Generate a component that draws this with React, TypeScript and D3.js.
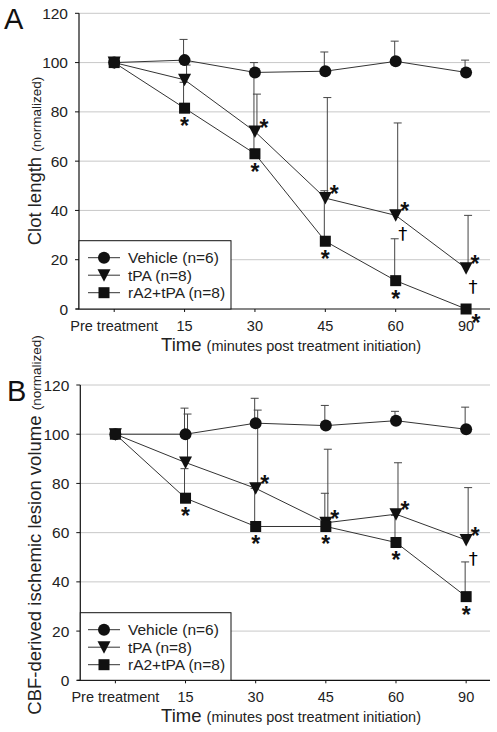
import React from "react";
import * as d3 from "d3";

const categories = ["Pre treatment", "15", "30", "45", "60", "90"];
const yTicks = [0, 20, 40, 60, 80, 100, 120];
const seriesNames = ["Vehicle (n=6)", "tPA (n=8)", "rA2+tPA (n=8)"];

// Panel A: clot length
const vehicleA = [100, 101, 96, 96.5, 100.5, 96];
const vehicleAUp = [100, 109.4, 100, 104.3, 108.7, 101];
const tpaA = [100, 93, 72, 45, 38, 16.5];
const tpaAUp = [100, 99, 87.2, 85.8, 75.5, 38];
const ra2A = [100, 81.5, 63, 27.5, 11.5, 0];
const ra2AUp = [100, 92, 95, 48, 28.5, 0];
// significance marks: [seriesIndex, categoryIndex, symbol, placement]
const marksA: [number, number, string, string][] = [
  [2, 1, "*", "below"], [2, 2, "*", "below"], [2, 3, "*", "below"], [2, 4, "*", "below"], [2, 5, "*", "lowright"],
  [1, 2, "*", "upright"], [1, 3, "*", "upright"], [1, 4, "*", "upright"], [1, 5, "*", "upright"],
  [1, 4, "†", "dagger"], [1, 5, "†", "dagger"],
];

// Panel B: CBF-derived ischemic lesion volume
const vehicleB = [100, 100, 104.5, 103.5, 105.5, 102];
const vehicleBUp = [100, 110.6, 114.6, 111.7, 109.3, 111];
const tpaB = [100, 88.5, 78, 64, 67.5, 57];
const tpaBUp = [100, 108.2, 109.8, 93.9, 88.4, 78.3];
const ra2B = [100, 74, 62.5, 62.5, 56, 34];
const ra2BUp = [100, 86, 78, 76, 67, 48.1];
const marksB: [number, number, string, string][] = [
  [2, 1, "*", "below"], [2, 2, "*", "below"], [2, 3, "*", "below"], [2, 4, "*", "below"], [2, 5, "*", "below"],
  [1, 2, "*", "upright"], [1, 3, "*", "upright"], [1, 4, "*", "upright"], [1, 5, "*", "upright"],
  [1, 5, "†", "dagger"],
];

const FONT = "'Liberation Sans', Arial, sans-serif";

function Marker({ kind, x, y }: { kind: number; x: number; y: number }) {
  if (kind === 0) return <circle cx={x} cy={y} r={6} fill="#111" />;
  if (kind === 1)
    return <path d={`M${x - 6.5},${y - 6} L${x + 6.5},${y - 6} L${x},${y + 6.5} Z`} fill="#111" />;
  return <rect x={x - 5.5} y={y - 5.5} width={11} height={11} fill="#111" />;
}

function Panel({
  label, top, bottom, left, values, ups, marks, titleMain, titleSub, titleCenterY, legendTop,
}: {
  label: string; top: number; bottom: number; left: number;
  values: number[][]; ups: number[][]; marks: [number, number, string, string][];
  titleMain: string; titleSub: string; titleCenterY: number; legendTop: number;
}) {
  const right = 490;
  const x = d3.scaleLinear().domain([-0.5, 5.34]).range([left, right]);
  const y = d3.scaleLinear().domain([0, 120]).range([bottom, top]);
  const line = d3.line<number>().x((_, i) => x(i)).y((v) => y(v));
  const barOffset = [-1, 2, -1];
  return (
    <g fontFamily={FONT}>
      <text x={label === "A" ? 4 : 7} y={top + 16} fontSize={29} fill="#111">{label}</text>
      {yTicks.map((t) => (
        <g key={t}>
          {t > 0 && <line x1={left} x2={right} y1={y(t)} y2={y(t)} stroke="#c8c8c8" strokeWidth={1} />}
          <line x1={left - 4} x2={left} y1={y(t)} y2={y(t)} stroke="#111" />
          <text x={left - 11} y={y(t) + 5.5} fontSize={15.5} textAnchor="end" fill="#222">{t}</text>
        </g>
      ))}
      <line x1={left} x2={left} y1={top} y2={bottom} stroke="#111" strokeWidth={1.2} />
      <line x1={left - 3} x2={right} y1={bottom} y2={bottom} stroke="#111" strokeWidth={1.2} />
      {categories.map((c, i) => (
        <g key={c}>
          <line x1={x(i)} x2={x(i)} y1={bottom} y2={bottom + 3} stroke="#111" />
          <text x={x(i)} y={bottom + 22} fontSize={14.5} textAnchor="middle" fill="#222">{c}</text>
        </g>
      ))}
      <text x={291} y={bottom + 42} textAnchor="middle" fill="#222">
        <tspan fontSize={18.5}>Time </tspan>
        <tspan fontSize={14.5}>(minutes post treatment initiation)</tspan>
      </text>
      <text transform={`translate(41,${titleCenterY}) rotate(-90)`} textAnchor="middle" fill="#222">
        <tspan fontSize={18.5}>{titleMain} </tspan>
        <tspan fontSize={13.5}>{titleSub}</tspan>
      </text>
      {/* error bars */}
      {values.map((vals, s) =>
        vals.map((v, i) => {
          const u = ups[s][i];
          if (u <= v + 0.2) return null;
          const bx = x(i) + barOffset[s];
          return (
            <g key={`e${s}-${i}`} stroke="#444" strokeWidth={1}>
              <line x1={bx} x2={bx} y1={y(v)} y2={y(u)} />
              <line x1={bx - 4} x2={bx + 4} y1={y(u)} y2={y(u)} />
            </g>
          );
        })
      )}
      {values.map((vals, s) => (
        <path key={`l${s}`} d={line(vals) || ""} fill="none" stroke="#333" strokeWidth={1} />
      ))}
      {values.map((vals, s) =>
        vals.map((v, i) => <Marker key={`m${s}-${i}`} kind={s} x={x(i)} y={y(v)} />)
      )}
      {marks.map(([s, i, sym, pos], k) => {
        const px = x(i);
        const py = y(values[s][i]);
        let tx = px, ty = py;
        if (pos === "below") { tx = px; ty = py + 26; }
        else if (pos === "upright") { tx = px + 9; ty = py + 4; }
        else if (pos === "lowright") { tx = px + 10; ty = py + 22; }
        else if (pos === "dagger") { tx = px + 7; ty = py + 25; }
        return sym === "*" ? (
          <text key={`s${k}`} x={tx} y={ty} fontSize={23} fontWeight="bold" textAnchor="middle" fill="#111">*</text>
        ) : (
          <text key={`s${k}`} x={tx} y={ty} fontSize={18} fontFamily="'DejaVu Sans', sans-serif" textAnchor="middle" fill="#000">†</text>
        );
      })}
      {/* legend */}
      <rect x={left} y={legendTop} width={231 - left} height={bottom - legendTop} fill="#fff" stroke="#111" strokeWidth={1} />
      {seriesNames.map((n, s) => {
        const ly = legendTop + 17 + s * 17.5;
        return (
          <g key={n}>
            <line x1={88} x2={120} y1={ly} y2={ly} stroke="#333" />
            <Marker kind={s} x={104} y={ly} />
            <text x={128} y={ly + 5.5} fontSize={15.5} fill="#222">{n}</text>
          </g>
        );
      })}
    </g>
  );
}

export default function App() {
  return (
    <svg width={497} height={732} style={{ position: "absolute", left: 0, top: 0, background: "#fff" }}>
      <rect width={497} height={732} fill="#fff" />
      <Panel
        label="A" top={13.3} bottom={309} left={79}
        values={[vehicleA, tpaA, ra2A]} ups={[vehicleAUp, tpaAUp, ra2AUp]} marks={marksA}
        titleMain="Clot length" titleSub="(normalized)" titleCenterY={161} legendTop={240.7}
      />
      <Panel
        label="B" top={385} bottom={680.3} left={80.3}
        values={[vehicleB, tpaB, ra2B]} ups={[vehicleBUp, tpaBUp, ra2BUp]} marks={marksB}
        titleMain="CBF-derived ischemic lesion volume" titleSub="(normalized)" titleCenterY={525} legendTop={612.7}
      />
    </svg>
  );
}
